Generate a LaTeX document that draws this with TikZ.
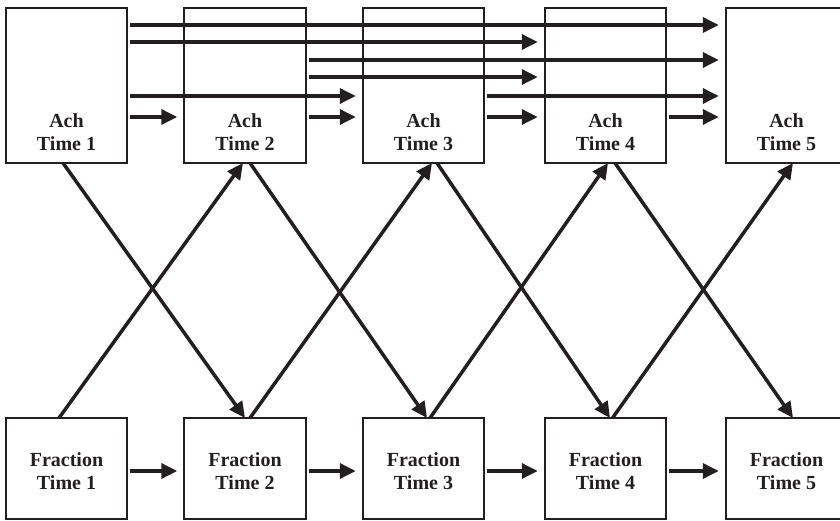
\documentclass[tikz,border=0pt]{standalone}
\usepackage{fontspec}
\setmainfont{Liberation Serif}
\usetikzlibrary{arrows.meta,calc}
\definecolor{ink}{HTML}{231F20}
\begin{document}
\begin{tikzpicture}[x=1pt,y=-1pt,
  box/.style={draw=ink,line width=2.3pt,minimum width=121.5pt,inner sep=0pt,outer sep=0pt},
  achbox/.style={box,minimum height=155pt},
  fracbox/.style={box,minimum height=101pt},
  lbl/.style={text=ink,font=\fontsize{20}{23}\selectfont\bfseries,align=center,inner sep=0pt},
  arr/.style={draw=ink,line width=3.5pt,-{Triangle[length=16pt,width=15pt]}},
]
\clip (0,0) rectangle (840,521);

% Achievement boxes (top) and fraction boxes (bottom) for the five waves
\foreach \i/\x in {1/66.5,2/245,3/423.5,4/605.5,5/786.5}{
  \node[achbox] (A\i) at (\x,85.5) {};
  \node[fracbox] (F\i) at (\x,468.5) {};
  \node[lbl] (At\i) at (\x,132.5) {Ach\\Time \i};
  \node[lbl] (Ft\i) at (\x,471.5) {Fraction\\Time \i};
}

% Autoregressive paths among achievement waves
\foreach \s/\t/\dy in {1/5/17, 1/4/34, 2/5/52, 2/4/69, 1/3/88, 3/5/88,
                       1/2/109, 2/3/109, 3/4/109, 4/5/109}
  \draw[arr] ($(A\s.north east)+(3,\dy)$) -- ($(A\t.north west)+(-7,\dy)$);

% Autoregressive paths among fraction waves
\foreach \i/\j in {1/2,2/3,3/4,4/5}
  \draw[arr] ($(F\i.east)+(3,2.5)$) -- ($(F\j.west)+(-7,2.5)$);

% Cross-lagged paths
\foreach \i/\j/\sa/\tf/\sf/\ta in {1/2/-3.5/0/-7.5/-2, 2/3/5/3.5/5/8.5,
                                   3/4/13.5/4.5/6.5/2.5, 4/5/9.5/6.5/7/6.5}{
  \draw[arr] ($(A\i.south)+(\sa,0)$) -- ($(F\j.north)+(\tf,0)$);
  \draw[arr] ($(F\i.north)+(\sf,0)$) -- ($(A\j.south)+(\ta,0)$);
}
\end{tikzpicture}
\end{document}
